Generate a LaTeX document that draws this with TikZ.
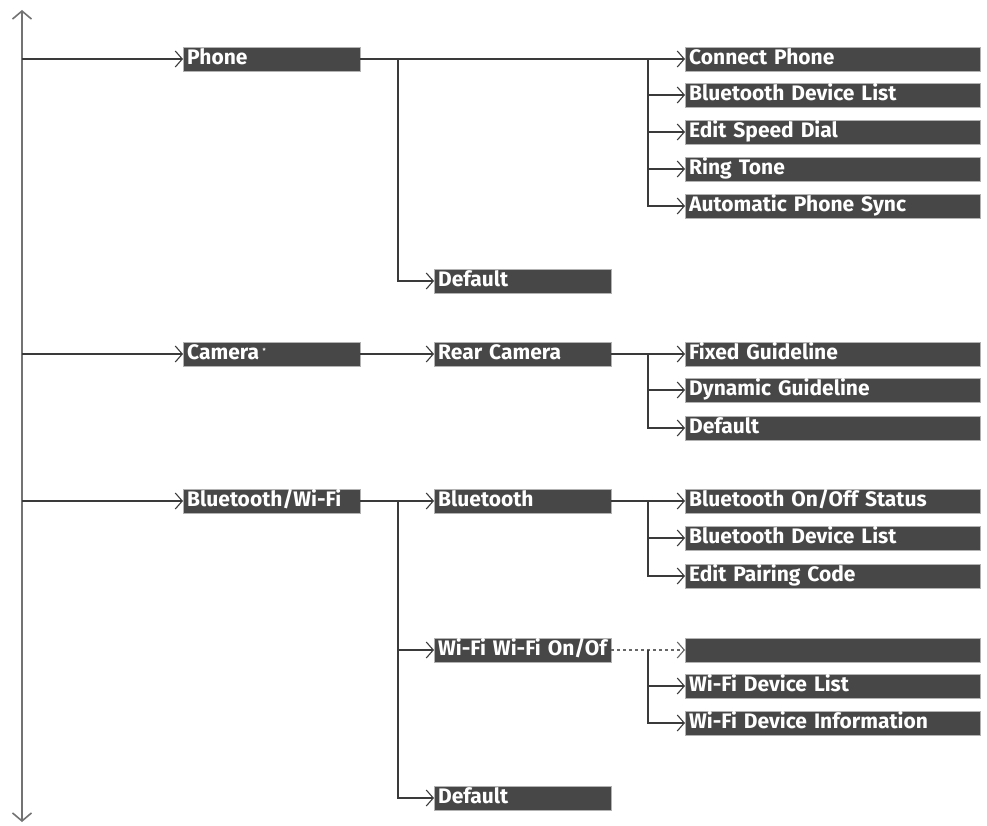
\documentclass[tikz,border=0pt]{standalone}
\usepackage{fontspec}
\setmainfont{Fira Sans}
\usetikzlibrary{arrows.meta,positioning}
\definecolor{boxgray}{HTML}{474747}
\definecolor{linegray}{HTML}{3A3A3A}

\begin{document}
\begin{tikzpicture}[x=1pt,y=-1pt,
    item/.style={draw=gray!60,fill=boxgray,text=white,anchor=west,
      font=\bfseries\fontsize{21}{23}\selectfont,minimum height=24pt,
      text height=14.5pt,text depth=3pt,inner xsep=4pt,inner ysep=0pt,
      align=left,text width=169pt},
    wideitem/.style={item,text width=287pt},
    link/.style={draw=linegray,line width=1.1pt},
    barb/.style={link,-{Straight Barb[length=7pt,width=16pt]}},
    spine/.style={draw=gray!90!black,line width=1.6pt,
      {Straight Barb[length=8pt,width=19pt]}-{Straight Barb[length=8pt,width=19pt]}}]
  \useasboundingbox (0,0) rectangle (987,826);

  % first level
  \node[item] (phone) at (183,59) {Phone};
  \node[item] (camera) at (183,354) {Camera\,\raisebox{0.6ex}{\scriptsize *}};
  \node[item] (btwifi) at (183,501) {Bluetooth/Wi-Fi};

  % second level
  \node[item] (pdefault) at (434,281) {Default};
  \node[item] (rearcam) at (434,354) {Rear Camera};
  \node[item] (bt) at (434,501) {Bluetooth};
  \node[item] (wifi) at (434,650) {Wi-Fi Wi-Fi On/Of};
  \node[item] (bdefault) at (434,798) {Default};

  % third level
  \node[wideitem] (connect) at (685,59) {Connect Phone};
  \node[wideitem] (pbtlist) at (685,95) {Bluetooth Device List};
  \node[wideitem] (speed) at (685,132) {Edit Speed Dial};
  \node[wideitem] (ring) at (685,169) {Ring Tone};
  \node[wideitem] (sync) at (685,206) {Automatic Phone Sync};
  \node[wideitem] (fixed) at (685,354) {Fixed Guideline};
  \node[wideitem] (dynamic) at (685,390) {Dynamic Guideline};
  \node[wideitem] (cdefault) at (685,428) {Default};
  \node[wideitem] (btstatus) at (685,501) {Bluetooth On/Off Status};
  \node[wideitem] (btlist) at (685,538) {Bluetooth Device List};
  \node[wideitem] (pairing) at (685,576) {Edit Pairing Code};
  \node[wideitem] (wifionoff) at (685,650) {};
  \node[wideitem] (wifilist) at (685,686) {Wi-Fi Device List};
  \node[wideitem] (wifiinfo) at (685,723) {Wi-Fi Device Information};

  % spine
  \coordinate (top) at (22,10);
  \coordinate (bottom) at (22,822);
  \draw[spine] (top) -- (bottom);
  \foreach \n in {phone,camera,btwifi}
    \draw[barb] (top |- \n) -- (\n.west);

  % junctions
  \coordinate (jphone) at (398,59);
  \coordinate (jbtwifi) at (398,501);
  \coordinate (jconnect) at (648,59);
  \coordinate (jfixed) at (648,354);
  \coordinate (jbtstatus) at (648,501);
  \coordinate (jwifi) at (648,650);

  \draw[barb] (phone.east) -- (connect.west);
  \draw[barb] (jphone) |- (pdefault.west);
  \foreach \n in {pbtlist,speed,ring,sync}
    \draw[barb] (jconnect) |- (\n.west);

  \draw[barb] (camera.east) -- (rearcam.west);
  \draw[barb] (rearcam.east) -- (fixed.west);
  \foreach \n in {dynamic,cdefault}
    \draw[barb] (jfixed) |- (\n.west);

  \draw[barb] (btwifi.east) -- (bt.west);
  \foreach \n in {wifi,bdefault}
    \draw[barb] (jbtwifi) |- (\n.west);
  \draw[barb] (bt.east) -- (btstatus.west);
  \foreach \n in {btlist,pairing}
    \draw[barb] (jbtstatus) |- (\n.west);
  \draw[barb,draw=gray!80!black,dashed] (wifi.east) -- (wifionoff.west);
  \foreach \n in {wifilist,wifiinfo}
    \draw[barb] (jwifi) |- (\n.west);
\end{tikzpicture}
\end{document}
